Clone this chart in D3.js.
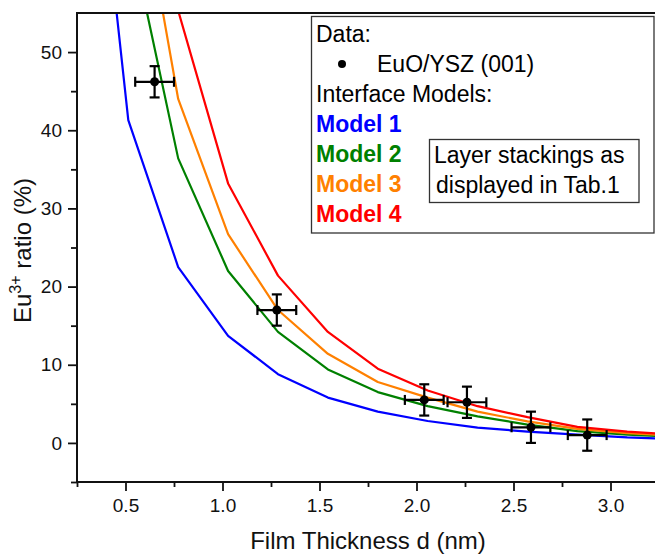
<!DOCTYPE html>
<html>
<head>
<meta charset="utf-8">
<script src="https://cdn.jsdelivr.net/npm/d3@7/dist/d3.min.js"></script>
<style>
  html, body { margin: 0; padding: 0; background: #fff; }
  svg { display: block; font-family: "Liberation Sans", Arial, sans-serif; }
</style>
</head>
<body>
<svg id="chart" width="655" height="556"></svg>
<script>
// Film thickness in nm (integer multiples of the EuO monolayer height)
const thickness = [0.2572, 0.5144, 0.7716, 1.0288, 1.2860, 1.5432, 1.8004,
                   2.0576, 2.3148, 2.5720, 2.8292, 3.0864, 3.3436];

// Calculated Eu3+ ratio (%) for the four interface models
const model1 = [100, 41.3, 22.5, 13.7, 8.8, 5.8, 4.0, 2.8, 1.95, 1.45, 1.05, 0.70, 0.50];
const model2 = [100, 66.2, 36.4, 22.0, 14.2, 9.4, 6.5, 4.7, 3.40, 2.35, 1.50, 1.05, 0.75];
const model3 = [100, 80.1, 44.0, 26.7, 17.0, 11.4, 7.8, 5.8, 4.00, 2.75, 1.80, 1.25, 0.90];
const model4 = [100, 88.0, 55.3, 33.2, 21.4, 14.2, 9.5, 6.7, 4.70, 3.30, 2.05, 1.45, 1.05];

const modelNames  = ["Model 1", "Model 2", "Model 3", "Model 4"];
const modelColors = ["#0000ff", "#008000", "#ff8000", "#ff0000"];

// Measured EuO/YSZ (001) data with error bars
const dataX    = [0.65, 1.28, 2.04, 2.26, 2.59, 2.88];
const dataY    = [46.2, 17.0, 5.5, 5.2, 2.0, 1.0];
const dataXErr = [0.10, 0.10, 0.10, 0.10, 0.10, 0.10];
const dataYErr = [2.0, 2.0, 2.0, 2.0, 2.0, 2.0];

// Axis ticks
const xMajor = [0.5, 1.0, 1.5, 2.0, 2.5, 3.0];
const xMinor = [0.25, 0.75, 1.25, 1.75, 2.25, 2.75, 3.25];
const yMajor = [0, 10, 20, 30, 40, 50];
const yMinor = [-5, 5, 15, 25, 35, 45];

const svg = d3.select("#chart");
const plotL = 77, plotR = 659, plotT = 13, plotB = 482;

const x = d3.scaleLinear().domain([0.25, 3.25]).range([plotL, plotR]);
const y = d3.scaleLinear().domain([-5, 55]).range([plotB, plotT]);

svg.append("defs").append("clipPath").attr("id", "plotArea")
  .append("rect")
  .attr("x", plotL).attr("y", plotT)
  .attr("width", plotR - plotL).attr("height", plotB - plotT);

// Model curves
const line = d3.line().x(d => x(d[0])).y(d => y(d[1]));
const curves = svg.append("g").attr("clip-path", "url(#plotArea)");
[model1, model2, model3, model4].forEach((vals, i) => {
  curves.append("path")
    .datum(thickness.map((t, k) => [t, vals[k]]))
    .attr("d", line)
    .attr("fill", "none")
    .attr("stroke", modelColors[i])
    .attr("stroke-width", 2.2)
    .attr("stroke-linejoin", "round");
});

// Axes
const axisColor = "#111";
const xAxisMajor = d3.axisBottom(x).tickValues(xMajor).tickSize(9).tickSizeOuter(0)
  .tickPadding(8).tickFormat(d3.format(".1f"));
const xAxisMinor = d3.axisBottom(x).tickValues(xMinor).tickSize(5).tickSizeOuter(0)
  .tickFormat("");
const yAxisMajor = d3.axisLeft(y).tickValues(yMajor).tickSize(9).tickSizeOuter(0)
  .tickPadding(6).tickFormat(d3.format("d"));
const yAxisMinor = d3.axisLeft(y).tickValues(yMinor).tickSize(6).tickSizeOuter(0)
  .tickFormat("");

function styleAxis(g) {
  g.select(".domain").remove();
  g.selectAll(".tick line").attr("stroke", axisColor).attr("stroke-width", 1.8);
  g.selectAll(".tick text").attr("fill", "#111")
    .style("font-family", "'Liberation Sans', Arial, sans-serif")
    .style("font-size", "19px");
}

svg.append("g").attr("transform", `translate(0,${plotB})`).call(xAxisMinor).call(styleAxis);
svg.append("g").attr("transform", `translate(0,${plotB})`).call(xAxisMajor).call(styleAxis);
svg.append("g").attr("transform", `translate(${plotL},0)`).call(yAxisMinor).call(styleAxis);
svg.append("g").attr("transform", `translate(${plotL},0)`).call(yAxisMajor).call(styleAxis);

// Frame lines (bottom, left, top, right)
svg.append("rect")
  .attr("x", plotL).attr("y", plotT)
  .attr("width", plotR - plotL).attr("height", plotB - plotT)
  .attr("fill", "none").attr("stroke", axisColor).attr("stroke-width", 2);

// Axis titles
svg.append("text")
  .attr("x", (plotL + plotR) / 2).attr("y", 549)
  .attr("text-anchor", "middle")
  .style("font-size", "24px").attr("fill", "#111")
  .text("Film Thickness d (nm)");

const yTitle = svg.append("text")
  .attr("transform", `translate(31,${(plotT + plotB) / 2 + 3}) rotate(-90)`)
  .attr("text-anchor", "middle")
  .style("font-size", "24px").attr("fill", "#111");
yTitle.append("tspan").text("Eu");
yTitle.append("tspan").attr("dy", -10).style("font-size", "16px").text("3+");
yTitle.append("tspan").attr("dy", 10).text(" ratio (%)");

// Error bars and data markers
const pts = svg.append("g").attr("clip-path", "url(#plotArea)");
const cap = 5;
dataX.forEach((dx, i) => {
  const cx = x(dx), cy = y(dataY[i]);
  const x0 = x(dx - dataXErr[i]), x1 = x(dx + dataXErr[i]);
  const y0 = y(dataY[i] - dataYErr[i]), y1 = y(dataY[i] + dataYErr[i]);
  const g = pts.append("g").attr("stroke", "#000").attr("stroke-width", 2.2);
  g.append("line").attr("x1", x0).attr("x2", x1).attr("y1", cy).attr("y2", cy);
  g.append("line").attr("x1", x0).attr("x2", x0).attr("y1", cy - cap).attr("y2", cy + cap);
  g.append("line").attr("x1", x1).attr("x2", x1).attr("y1", cy - cap).attr("y2", cy + cap);
  g.append("line").attr("x1", cx).attr("x2", cx).attr("y1", y0).attr("y2", y1);
  g.append("line").attr("x1", cx - cap).attr("x2", cx + cap).attr("y1", y0).attr("y2", y0);
  g.append("line").attr("x1", cx - cap).attr("x2", cx + cap).attr("y1", y1).attr("y2", y1);
  pts.append("circle").attr("cx", cx).attr("cy", cy).attr("r", 4.5).attr("fill", "#000");
});

// Legend
const legend = svg.append("g");
legend.append("rect")
  .attr("x", 311.5).attr("y", 16.5).attr("width", 342.5).attr("height", 216.5)
  .attr("fill", "#fff").attr("stroke", "#333").attr("stroke-width", 1.3);

const lx = 316, ly = 42, step = 30;
legend.append("text").attr("x", lx).attr("y", ly)
  .style("font-size", "23px").attr("fill", "#000").text("Data:");
legend.append("circle").attr("cx", 342).attr("cy", ly + step - 8).attr("r", 4).attr("fill", "#000");
legend.append("text").attr("x", 377).attr("y", ly + step)
  .style("font-size", "23px").attr("fill", "#000").text("EuO/YSZ (001)");
legend.append("text").attr("x", lx).attr("y", ly + 2 * step)
  .style("font-size", "23px").attr("fill", "#000").text("Interface Models:");
modelNames.forEach((name, i) => {
  legend.append("text").attr("x", lx).attr("y", ly + (3 + i) * step)
    .style("font-size", "23px").style("font-weight", "bold")
    .attr("fill", modelColors[i]).text(name);
});

legend.append("rect")
  .attr("x", 429.5).attr("y", 139.5).attr("width", 209.5).attr("height", 63)
  .attr("fill", "#fff").attr("stroke", "#333").attr("stroke-width", 1.3);
legend.append("text").attr("x", 434).attr("y", 163)
  .style("font-size", "23px").attr("fill", "#000").text("Layer stackings as");
legend.append("text").attr("x", 436).attr("y", 193)
  .style("font-size", "23px").attr("fill", "#000").text("displayed in Tab.1");
</script>
</body>
</html>
